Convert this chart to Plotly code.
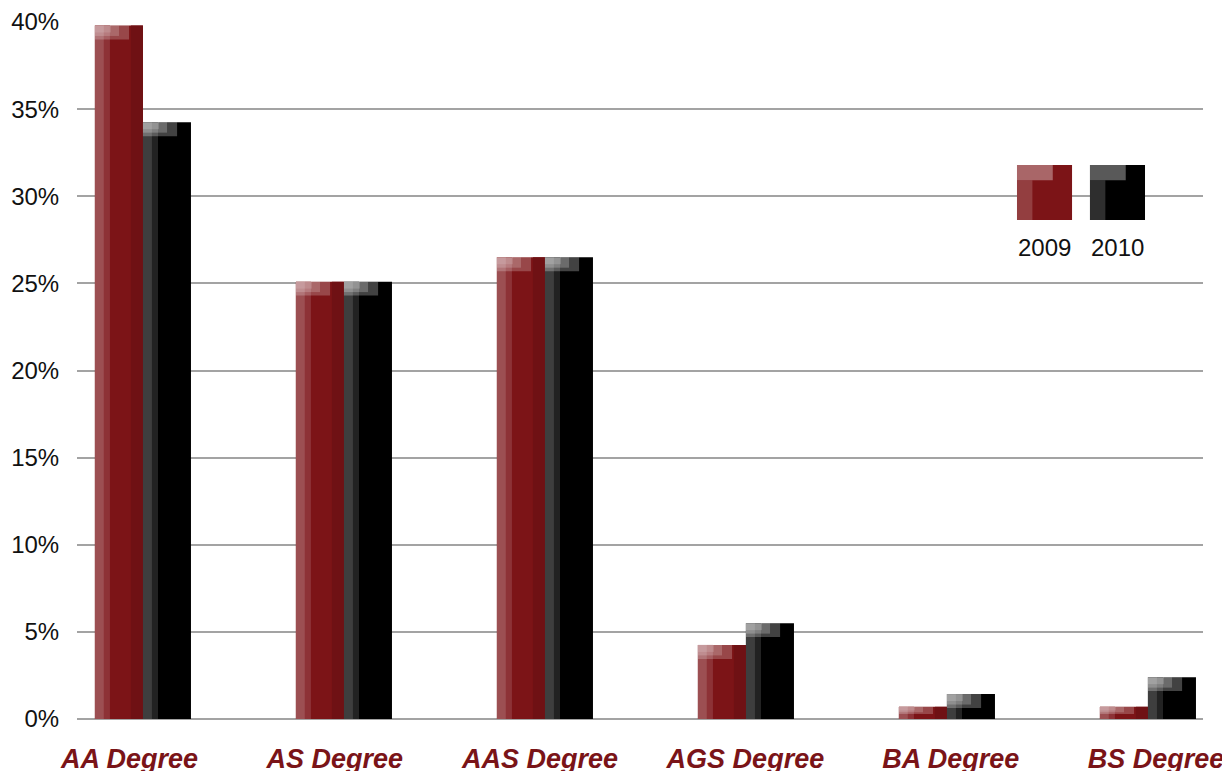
import plotly.graph_objects as go

categories = ["AA Degree", "AS Degree", "AAS Degree", "AGS Degree", "BA Degree", "BS Degree"]
values_2009 = [39.8, 25.1, 26.5, 4.25, 0.7, 0.7]
values_2010 = [34.25, 25.1, 26.5, 5.5, 1.43, 2.4]
y_ticks = [0, 5, 10, 15, 20, 25, 30, 35, 40]
y_tick_labels = ["0%", "5%", "10%", "15%", "20%", "25%", "30%", "35%", "40%"]
series_names = ["2009", "2010"]

FONT = "Liberation Sans, Arial, Helvetica, sans-serif"
RED = "#7c1417"
BLACK = "#000000"
LABEL_RED = "#7a1418"

x = list(range(len(categories)))
W = 0.239

fig = go.Figure()

def add_bar(vals, color, width, offset, base=None):
    fig.add_trace(go.Bar(
        x=x, y=vals, base=base, width=width, offset=offset,
        marker=dict(color=color, line=dict(width=0)),
        showlegend=False, hoverinfo="skip"))

# main bars
add_bar(values_2009, RED, W, -W)
add_bar(values_2010, BLACK, W, 0)
# darker right edge for 2009
add_bar(values_2009, "#6f1114", 0.06, -0.06)
# left lighter strips (glossy look)
add_bar(values_2009, "#9c4f52", 0.045, -W)
add_bar(values_2009, "#8d3236", 0.03, -W + 0.045)
add_bar(values_2010, "#3e3e3e", 0.045, 0)
add_bar(values_2010, "#222222", 0.03, 0.045)

# top highlight bands
def hl(vals, frac):
    h = [min(0.8 * frac, v * 0.6 * frac) for v in vals]
    b = [v - hh for v, hh in zip(vals, h)]
    return h, b

for frac, wdt, alpha in [(1.0, 0.17, 0.22), (0.75, 0.12, 0.18), (0.5, 0.08, 0.12)]:
    h9, b9 = hl(values_2009, frac)
    h10, b10 = hl(values_2010, frac)
    add_bar(h9, f"rgba(255,255,255,{alpha})", wdt, -W, base=b9)
    add_bar(h10, f"rgba(255,255,255,{alpha + 0.04})", wdt, 0, base=b10)

# invisible trace carrying the category label axis
fig.add_trace(go.Scatter(x=x, y=[0] * len(x), xaxis="x2", mode="markers",
                         marker=dict(opacity=0), showlegend=False, hoverinfo="skip"))

# legend swatches drawn as shapes
shapes = []
legend_x = [(0.8348, 0.8837), (0.8996, 0.9485)]
legend_col = [RED, BLACK]
for (x0, x1), c in zip(legend_x, legend_col):
    shapes.append(dict(type="rect", xref="paper", yref="paper", x0=x0, x1=x1,
                       y0=0.7159, y1=0.7948, fillcolor=c, line=dict(width=0), layer="above"))
    shapes.append(dict(type="rect", xref="paper", yref="paper", x0=x0, x1=x0 + (x1 - x0) * 0.65,
                       y0=0.7948 - 0.022, y1=0.7948, fillcolor="rgba(255,255,255,0.35)",
                       line=dict(width=0), layer="above"))
    shapes.append(dict(type="rect", xref="paper", yref="paper", x0=x0, x1=x0 + (x1 - x0) * 0.28,
                       y0=0.7159, y1=0.7948 - 0.022, fillcolor="rgba(255,255,255,0.18)",
                       line=dict(width=0), layer="above"))

annotations = []
for (x0, x1), name in zip(legend_x, series_names):
    annotations.append(dict(text=name, xref="paper", yref="paper", x=(x0 + x1) / 2, y=0.677,
                            showarrow=False, xanchor="center", yanchor="middle",
                            font=dict(family=FONT, size=24, color="#111111")))

fig.update_layout(
    width=1222, height=771,
    margin=dict(l=77, r=19, t=22, b=52, autoexpand=False),
    paper_bgcolor="white", plot_bgcolor="white",
    barmode="overlay",
    shapes=shapes, annotations=annotations,
    xaxis=dict(
        range=[-0.328, 5.274], showticklabels=False,
        showgrid=False, zeroline=False, showline=False, automargin=False,
        fixedrange=True,
    ),
    xaxis2=dict(
        overlaying="x", side="bottom", anchor="y",
        tickmode="array", tickvals=x, ticktext=categories, range=[-0.2557, 5.229],
        showgrid=False, zeroline=False, showline=False, automargin=False,
        ticks="outside", ticklen=16, tickcolor="rgba(0,0,0,0)",
        ticklabeloverflow="allow",
        tickfont=dict(family=FONT, size=27, color=LABEL_RED, weight="bold", style="italic"),
        fixedrange=True,
    ),
    yaxis=dict(
        range=[0, 40], tickmode="array", tickvals=y_ticks, ticktext=y_tick_labels,
        showgrid=True, gridcolor="#a3a3a3", gridwidth=1.5,
        zeroline=True, zerolinecolor="#a3a3a3", zerolinewidth=1.5,
        showline=False, automargin=False,
        ticks="outside", ticklen=12, tickcolor="rgba(0,0,0,0)",
        tickfont=dict(family=FONT, size=24, color="#111111"),
        fixedrange=True,
    ),
    showlegend=False,
)

fig.write_html("out.html")
